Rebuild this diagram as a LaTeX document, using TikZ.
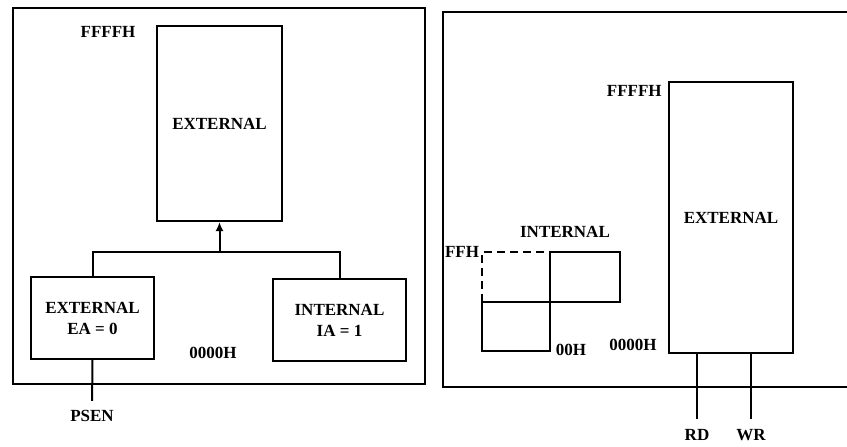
\documentclass[tikz,border=0pt]{standalone}
\usepackage{fontspec}
\setmainfont{Liberation Serif}
\usetikzlibrary{arrows.meta}
\begin{document}
\begin{tikzpicture}[x=1pt,y=-1pt,line width=2pt,
  every node/.style={font=\bfseries\fontsize{17}{21}\selectfont},
  membox/.style={draw,inner sep=0pt,align=center}]
\useasboundingbox (0,0) rectangle (847,447);
% left: program memory
\draw (13,8) rectangle (425,384);
\node[membox,minimum width=125,minimum height=195] (extA) at (219.5,123.5) {EXTERNAL};
\node[membox,minimum width=123,minimum height=82] (extB) at (92.5,318) {EXTERNAL\\EA = 0};
\node[membox,minimum width=133,minimum height=82] (intB) at (339.5,320) {INTERNAL\\IA = 1};
\coordinate (j) at (219.5,252);
\draw (extB.north) |- (j) -| (intB.north);
\draw[-{Latex[length=9pt,width=8pt]}] (j) -- (extA.south);
\node (ffffA) at (108,32) {FFFFH};
\node (zeroA) at (213,353) {0000H};
\node (psen) at (92,416) {PSEN};
\draw[shorten >=5pt] (extB.south) -- (psen.north);
% right: data memory
\draw (847,12) -- (443,12) -- (443,387) -- (847,387);
\node[membox,minimum width=124,minimum height=271] (extC) at (731,217.5) {EXTERNAL};
\node[anchor=east] (ffffC) at (666,91) {FFFFH};
\node[anchor=east] (zeroC) at (661,345) {0000H};
\node (rd) at (697,435) {RD};
\node (wr) at (751,435) {WR};
\draw[shorten >=6pt] (rd.north |- extC.south) -- (rd.north);
\draw[shorten >=6pt] (wr.north |- extC.south) -- (wr.north);
\node (intC) at (565,232) {INTERNAL};
\node (ffh) at (462,252) {FFH};
\node (zzh) at (571,350) {00H};
\draw[dash pattern=on 8pt off 5pt] (482,302) -- (482,252) -- (550,252);
\draw (550,252) -- (620,252) -- (620,302) -- (482,302);
\draw (550,252) -- (550,351) -- (482,351) -- (482,302);
\end{tikzpicture}
\end{document}
